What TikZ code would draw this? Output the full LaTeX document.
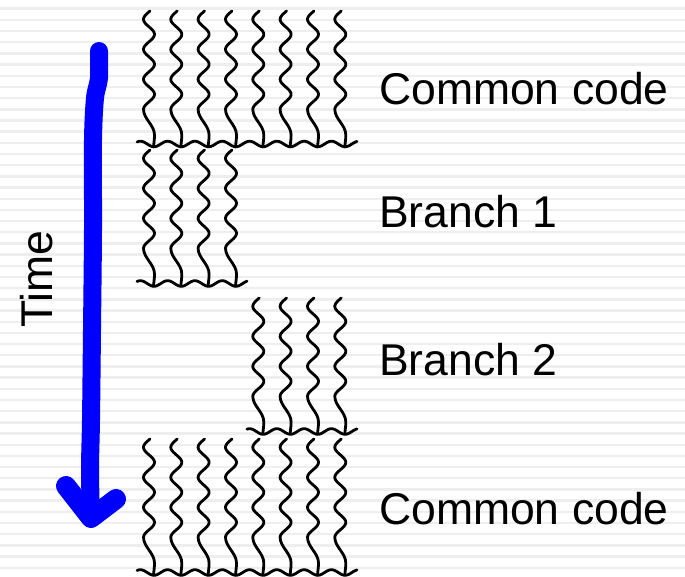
\documentclass[tikz,border=0pt]{standalone}
\usepackage{fontspec}
\setmainfont{Liberation Sans}
\definecolor{stripecol}{RGB}{238,238,238}
\definecolor{arrowblue}{RGB}{0,0,255}
\newcommand\threadat[2]{\draw[thread] plot[domain=0:98.3,samples=80,smooth,variable=\t] ({#1+5.5*sin(12*\t+170)},{#2+\t})
  .. controls ({#1-5.5},{#2+108}) and ({#1+5.5},{#2+114}) .. ({#1+5.5},{#2+124})
  .. controls ({#1+5.5},{#2+130}) and ({#1+4.5},{#2+133}) .. ({#1+4.5},{#2+136});}
\newcommand\waveat[3]{\draw[thread] plot[domain=#1:#2,samples=120,smooth,variable=\t] ({\t},{#3+2.8*cos(13.187*(\t-154))});}
\begin{document}
\begin{tikzpicture}[x=1pt,y=-1pt,
  thread/.style={line width=2.8pt, black, line join=round, line cap=round},
  lbl/.style={font=\fontsize{44.5}{52}\selectfont, anchor=base west, inner sep=0pt},
  stripe/.style={line width=2.4pt, draw=stripecol},
  arrowline/.style={line width=18pt, draw=arrowblue, line cap=round, line join=round}]
\useasboundingbox (0,0) rectangle (685,577);
\fill[white] (0,0) rectangle (685,577);
\foreach \i in {0,...,51} \draw[stripe] (0,8.7+11.18*\i) -- (685,8.7+11.18*\i);
% top common code
\foreach \c in {149,176.3,203.6,231,258.3,285.6,313,340.3} {\threadat{\c}{11}}
\waveat{137}{357}{144}
% branch 1
\foreach \c in {149,176.3,203.6,231} {\threadat{\c}{150}}
\waveat{137}{247}{283.5}
% branch 2
\foreach \c in {258.3,285.6,313,340.3} {\threadat{\c}{298}}
\waveat{247}{357}{431.5}
% bottom common code
\foreach \c in {149,176.3,203.6,231,258.3,285.6,313,340.3} {\threadat{\c}{439}}
\waveat{137}{357}{572.5}
% labels
\node[lbl] (cc1) at (379,104.3) {Common code};
\node[lbl] (b1) at (379,227.7) {Branch 1};
\node[lbl] (b2) at (379,375) {Branch 2};
\node[lbl] (cc2) at (379,524.3) {Common code};
\node[lbl, rotate=90] (time) at (52,328) {Time};
% time arrow
\coordinate (atop) at (99,51);
\coordinate (atip) at (91,518);
\coordinate (aleft) at (66,486);
\coordinate (aright) at (116,499);
\draw[arrowline] plot[smooth] coordinates {(atop) (99,78) (95,98) (93,140) (93,230) (92,330) (91,420) (90,470) (atip)};
\draw[arrowline, line width=20pt] (aleft) -- (atip) -- (aright);
\end{tikzpicture}
\end{document}
